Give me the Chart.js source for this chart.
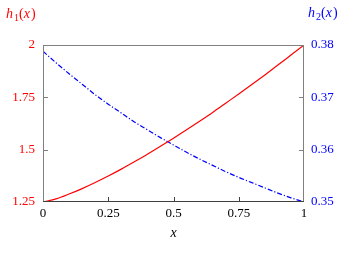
<!DOCTYPE html>
<html>
<head>
<meta charset="utf-8">
<script src="https://cdn.jsdelivr.net/npm/chart.js@4.4.1/dist/chart.umd.min.js"></script>
<style>
    html, body { margin: 0; padding: 0; background: #fff; }
</style>
</head>
<body>
<canvas id="curveChart" width="346" height="275"></canvas>
<script>
// values
const xValues = [0, 0.05, 0.1, 0.15, 0.2, 0.25, 0.3, 0.35, 0.4, 0.45, 0.5,
                 0.55, 0.6, 0.65, 0.7, 0.75, 0.8, 0.85, 0.9, 0.95, 1];
const h1Values = [1.25, 1.265, 1.288, 1.314, 1.343, 1.374, 1.407, 1.442, 1.478, 1.516, 1.555,
                  1.595, 1.636, 1.678, 1.722, 1.766, 1.811, 1.857, 1.904, 1.952, 2];
const h2Values = [0.3788, 0.3766, 0.3745, 0.3725, 0.3705, 0.3687, 0.3670, 0.3653, 0.3638, 0.3623, 0.3609,
                  0.3595, 0.3582, 0.3570, 0.3558, 0.3547, 0.3537, 0.3527, 0.3517, 0.3508, 0.3500];

const xTicks = [0, 0.25, 0.5, 0.75, 1];
const h1Ticks = [1.25, 1.5, 1.75, 2];
const h2Ticks = [0.35, 0.36, 0.37, 0.38];
const xTickLabels = ['0', '0.25', '0.5', '0.75', '1'];
const h1TickLabels = ['1.25', '1.5', '1.75', '2'];
const h2TickLabels = ['0.35', '0.36', '0.37', '0.38'];

const RED = '#ff0000';
const BLUE = '#0000ff';
const SERIF = '"Liberation Serif", "DejaVu Serif", serif';

// draws things like h_1(x) with italic letters and a small subscript
function drawMath(ctx, x, y, parts, color) {
    ctx.fillStyle = color;
    ctx.textBaseline = 'alphabetic';
    ctx.textAlign = 'left';
    let cx = x;
    parts.forEach(p => {
        const size = p.sub ? 10 : 14;
        ctx.font = (p.it ? 'italic ' : '') + size + 'px ' + SERIF;
        ctx.fillText(p.t, cx, y + (p.sub ? 3 : 0));
        cx += ctx.measureText(p.t).width + (p.it ? 1 : 0);
    });
}

const framePlugin = {
    id: 'frame',
    afterDatasetsDraw(chart) {
        const { ctx, chartArea: a, scales } = chart;
        ctx.save();
        ctx.lineWidth = 1;
        ctx.strokeStyle = '#808080';
        ctx.strokeRect(a.left + 0.5, a.top + 0.5, a.right - a.left - 1, a.bottom - a.top - 1);
        ctx.strokeStyle = '#404040';
        ctx.beginPath();
        ctx.moveTo(a.left, a.bottom - 0.5);
        ctx.lineTo(a.right, a.bottom - 0.5);

        // inward tick marks
        xTicks.slice(1, -1).forEach(v => {
            const px = Math.round(scales.x.getPixelForValue(v)) + 0.5;
            ctx.moveTo(px, a.bottom);
            ctx.lineTo(px, a.bottom - 5);
        });
        ctx.stroke();
        ctx.strokeStyle = '#808080';
        ctx.beginPath();
        h1Ticks.slice(1, -1).forEach(v => {
            const py = Math.round(scales.y.getPixelForValue(v)) + 0.5;
            ctx.moveTo(a.left, py);
            ctx.lineTo(a.left + 5, py);
        });
        h2Ticks.slice(1, -1).forEach(v => {
            const py = Math.round(scales.y2.getPixelForValue(v)) + 0.5;
            ctx.moveTo(a.right, py);
            ctx.lineTo(a.right - 5, py);
        });
        ctx.stroke();

        // axis titles
        drawMath(ctx, 6, 18, [{ t: 'h', it: true }, { t: '1', sub: true }, { t: '(' }, { t: 'x', it: true }, { t: ')' }], RED);
        drawMath(ctx, 308, 17, [{ t: 'h', it: true }, { t: '2', sub: true }, { t: '(' }, { t: 'x', it: true }, { t: ')' }], BLUE);
        ctx.font = 'italic 14px ' + SERIF;
        ctx.fillStyle = '#000';
        ctx.textAlign = 'center';
        ctx.fillText('x', (a.left + a.right) / 2, 237);
        ctx.restore();
    }
};

const ctx = document.getElementById('curveChart').getContext('2d');

new Chart(ctx, {
    type: 'line',
    data: {
        datasets: [
            {
                label: 'h1(x)',
                data: xValues.map((x, i) => ({ x: x, y: h1Values[i] })),
                borderColor: RED,
                borderWidth: 1.2,
                pointRadius: 0,
                cubicInterpolationMode: 'monotone',
                yAxisID: 'y'
            },
            {
                label: 'h2(x)',
                data: xValues.map((x, i) => ({ x: x, y: h2Values[i] })),
                borderColor: BLUE,
                borderWidth: 1.2,
                borderDash: [5, 2, 1.2, 2],
                pointRadius: 0,
                cubicInterpolationMode: 'monotone',
                yAxisID: 'y2'
            }
        ]
    },
    options: {
        responsive: false,
        animation: false,
        layout: {
            padding: { top: 45, bottom: 33, left: 0, right: 0 }
        },
        plugins: {
            legend: { display: false },
            tooltip: { enabled: false }
        },
        scales: {
            x: {
                type: 'linear',
                min: 0,
                max: 1,
                afterFit: s => { s.height = 40; },
                afterBuildTicks: s => { s.ticks = xTicks.map(v => ({ value: v })); },
                grid: { display: false, drawTicks: false },
                border: { display: false },
                ticks: {
                    padding: 4,
                    color: '#000',
                    font: { family: SERIF, size: 13 },
                    callback: (v) => xTickLabels[xTicks.indexOf(v)]
                }
            },
            y: {
                position: 'left',
                min: 1.25,
                max: 2,
                afterFit: s => { s.width = 43; },
                afterBuildTicks: s => { s.ticks = h1Ticks.map(v => ({ value: v })); },
                grid: { display: false, drawTicks: false },
                border: { display: false },
                ticks: {
                    padding: 8,
                    color: RED,
                    font: { family: SERIF, size: 13 },
                    callback: (v) => h1TickLabels[h1Ticks.indexOf(v)]
                }
            },
            y2: {
                position: 'right',
                min: 0.35,
                max: 0.38,
                afterFit: s => { s.width = 42; },
                afterBuildTicks: s => { s.ticks = h2Ticks.map(v => ({ value: v })); },
                grid: { display: false, drawTicks: false },
                border: { display: false },
                ticks: {
                    padding: 7,
                    color: BLUE,
                    font: { family: SERIF, size: 13 },
                    callback: (v) => h2TickLabels[h2Ticks.indexOf(v)]
                }
            }
        }
    },
    plugins: [framePlugin]
});
</script>
</body>
</html>
